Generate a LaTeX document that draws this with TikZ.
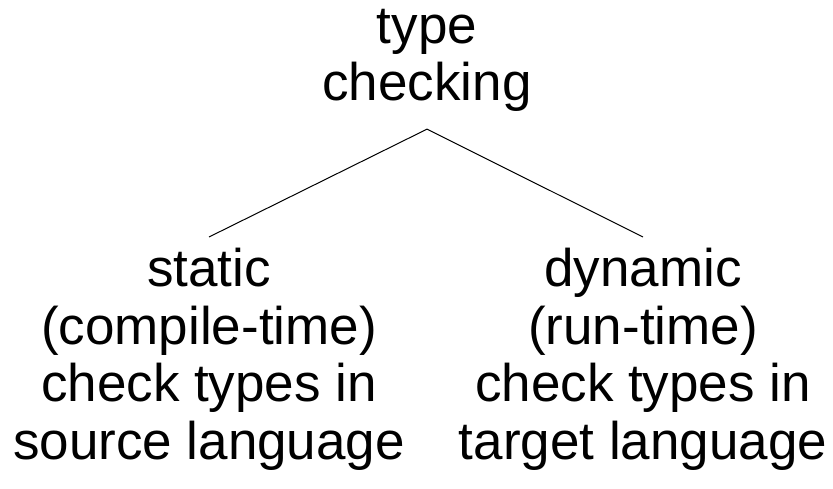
\documentclass[tikz,border=0pt]{standalone}
\usepackage{fontspec}
\setmainfont{Liberation Sans}
\usepackage{tikz}
\usetikzlibrary{positioning}
\tikzset{
        base/.style={align=center, inner sep=0pt, anchor=north,
                     font=\fontsize{53}{57.5}\selectfont},
        branch/.style={line width=1pt},
 }

\begin{document}
\begin{tikzpicture}[x=1pt, y=-1pt]
    \useasboundingbox (0,0) rectangle (833,489);

    \node[base] (root) at (427,9) {type\\checking};

    \node[base] (static) at (209,248) {static\\(compile-time)\\check types in\\source language};
    \node[base] (dynamic) at (643,248) {dynamic\\(run-time)\\check types in\\target language};

    \coordinate[below=17pt of root.south] (apex);
    \coordinate[above=11pt of static.north] (staticend);
    \coordinate[above=11pt of dynamic.north] (dynamicend);

    \draw[branch] (apex) -- (staticend);
    \draw[branch] (apex) -- (dynamicend);
\end{tikzpicture}
\end{document}
